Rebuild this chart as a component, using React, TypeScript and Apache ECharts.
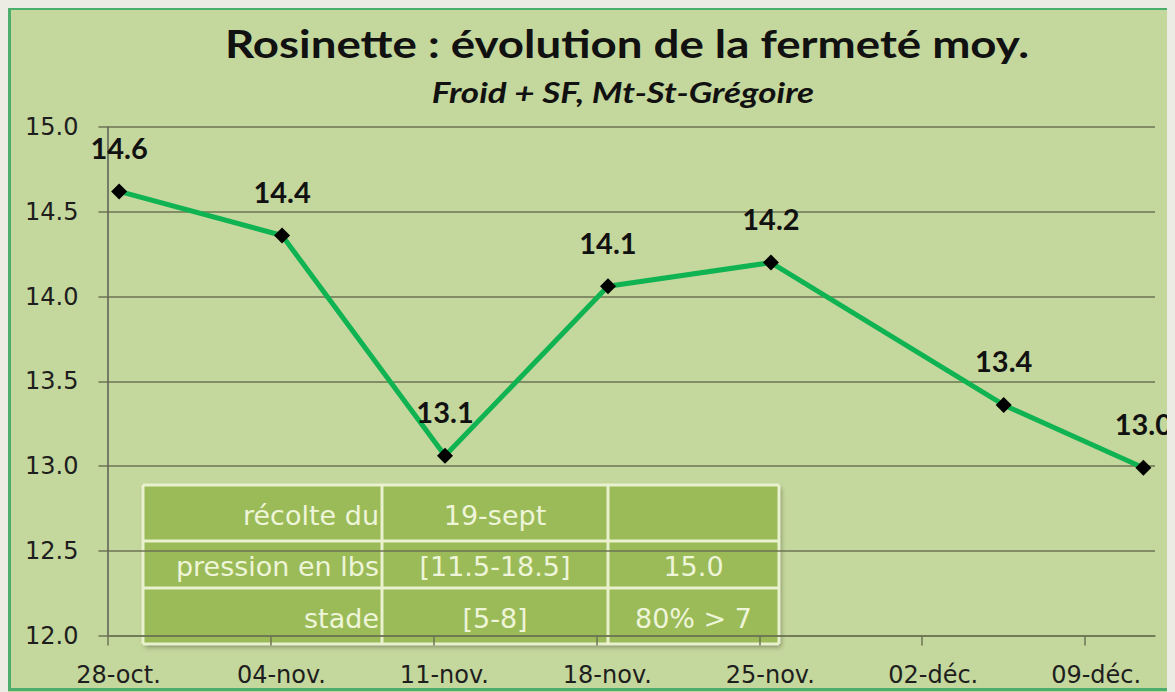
import React, { useEffect, useRef } from "react";
import * as echarts from "echarts";

// ---- data ----
const axisStart = "2011-10-28";
const axisEnd = "2011-12-12";
const tickLabels = ["28-oct.", "04-nov.", "11-nov.", "18-nov.", "25-nov.", "02-déc.", "09-déc."];
const sampleDates = ["2011-10-28", "2011-11-04", "2011-11-11", "2011-11-18", "2011-11-25", "2011-12-05", "2011-12-11"];
const firmness = [14.62, 14.36, 13.06, 14.06, 14.2, 13.36, 12.99];
const yMin = 12.0;
const yMax = 15.0;
const yStep = 0.5;
const titleText = "Rosinette : évolution de la fermeté moy.";
const subtitleText = "Froid + SF, Mt-St-Grégoire";
const tableCol1 = ["récolte du", "pression en lbs", "stade"];
const tableCol2 = ["19-sept", "[11.5-18.5]", "[5-8]"];
const tableCol3 = ["", "15.0", "80% > 7"];

const dayIndex = (s: string) =>
  (Date.parse(s + "T00:00:00Z") - Date.parse(axisStart + "T00:00:00Z")) / 86400000;

export default function App() {
  const ref = useRef<HTMLDivElement>(null);
  useEffect(() => {
    document.body.style.background = "#ecebe4";
    const chart = echarts.init(ref.current!, null, { renderer: "svg" });
    const gridColor = "#6c7554";
    const weekTicks = tickLabels.map((_, i) => i * 7);
    const points = sampleDates.map((d, i) => [dayIndex(d) + 0.5, firmness[i]]);

    // table geometry (chart coords)
    const tL = 135, tR = 771;
    const rows = [477, 533, 580, 636];
    const cols = [135, 374, 600, 771];
    const lineCol = "#e9f1cf";
    const txtCol = "#eef5d9";
    const tableChildren: any[] = [
      {
        type: "rect",
        shape: { x: tL, y: rows[0], width: tR - tL, height: rows[3] - rows[0] },
        style: {
          fill: "#9bbb59",
          shadowBlur: 5,
          shadowOffsetX: 2,
          shadowOffsetY: 3,
          shadowColor: "rgba(0,0,0,0.35)",
        },
      },
    ];
    rows.forEach((y) =>
      tableChildren.push({
        type: "line",
        shape: { x1: tL, y1: y, x2: tR, y2: y },
        style: { stroke: lineCol, lineWidth: 3 },
      })
    );
    cols.forEach((x) =>
      tableChildren.push({
        type: "line",
        shape: { x1: x, y1: rows[0], x2: x, y2: rows[3] },
        style: { stroke: lineCol, lineWidth: 3 },
      })
    );
    const tFont = { fontFamily: "DejaVu Sans", fontSize: 27 };
    for (let r = 0; r < 3; r++) {
      const cy = (rows[r] + rows[r + 1]) / 2 + 2;
      tableChildren.push({
        type: "text",
        x: cols[1] - 3,
        y: cy,
        style: { text: tableCol1[r], fill: txtCol, align: "right", verticalAlign: "middle", ...tFont },
      });
      tableChildren.push({
        type: "text",
        x: (cols[1] + cols[2]) / 2,
        y: cy,
        style: { text: tableCol2[r], fill: txtCol, align: "center", verticalAlign: "middle", ...tFont },
      });
      tableChildren.push({
        type: "text",
        x: (cols[2] + cols[3]) / 2,
        y: cy,
        style: { text: tableCol3[r], fill: txtCol, align: "center", verticalAlign: "middle", ...tFont },
      });
    }

    chart.setOption({
      animation: false,
      backgroundColor: "#c4d79c",
      grid: { left: 99.5, right: 20, top: 119, bottom: 56.5, containLabel: false, outerBoundsMode: "none" },
      xAxis: {
        type: "value",
        min: 0,
        max: dayIndex(axisEnd),
        interval: 7,
        axisLine: { show: true, onZero: false, lineStyle: { color: gridColor, width: 1.5 } },
        axisTick: { show: true, length: 10, customValues: weekTicks, lineStyle: { color: gridColor, width: 1.5 } },
        splitLine: { show: false },
        axisLabel: {
          customValues: weekTicks,
          formatter: (v: number) => tickLabels[Math.round(v / 7)] ?? "",
          fontFamily: "DejaVu Sans",
          fontSize: 24,
          color: "#1e1e1e",
          margin: 27,
          padding: [0, 0, 0, 22],
        },
      },
      yAxis: {
        type: "value",
        min: yMin,
        max: yMax,
        interval: yStep,
        axisLine: { show: true, lineStyle: { color: "#5a5e55", width: 1.5 } },
        axisTick: { show: true, length: 9, lineStyle: { color: gridColor, width: 1.5 } },
        splitLine: { show: true, lineStyle: { color: gridColor, width: 1.5 } },
        axisLabel: {
          formatter: (v: number) => v.toFixed(1),
          fontFamily: "DejaVu Sans",
          fontSize: 24,
          color: "#1e1e1e",
          margin: 29,
        },
      },
      series: [
        {
          type: "line",
          data: points,
          lineStyle: { color: "#0fb352", width: 5 },
          itemStyle: { color: "#000000" },
          symbol: "diamond",
          symbolSize: 16,
          z: 5,
          label: {
            show: true,
            position: "inside",
            offset: [0, -44],
            formatter: (p: any) => p.value[1].toFixed(1),
            fontFamily: "Lato",
            fontWeight: "bold",
            fontSize: 29,
            color: "#111111",
          },
        },
      ],
      graphic: [
        {
          type: "rect",
          shape: { x: 1.5, y: 0.5, width: 1300, height: 681 },
          style: { fill: "none", stroke: "#4cae6c", lineWidth: 3 },
          silent: true,
          z: 200,
        },
        {
          type: "text",
          x: 619,
          y: 35,
          scaleX: 1.17,
          style: {
            text: titleText,
            fill: "#111111",
            align: "center",
            verticalAlign: "middle",
            fontFamily: "Lato",
            fontWeight: "bold",
            fontSize: 39,
          },
        },
        {
          type: "text",
          x: 615,
          y: 84,
          scaleX: 1.25,
          style: {
            text: subtitleText,
            fill: "#111111",
            align: "center",
            verticalAlign: "middle",
            fontFamily: "Lato",
            fontWeight: "bold",
            fontStyle: "italic",
            fontSize: 28,
          },
        },
        { type: "group", z: 100, children: tableChildren },
      ],
    });
    return () => chart.dispose();
  }, []);
  return <div ref={ref} style={{ width: 1167, height: 684 }} />;
}
